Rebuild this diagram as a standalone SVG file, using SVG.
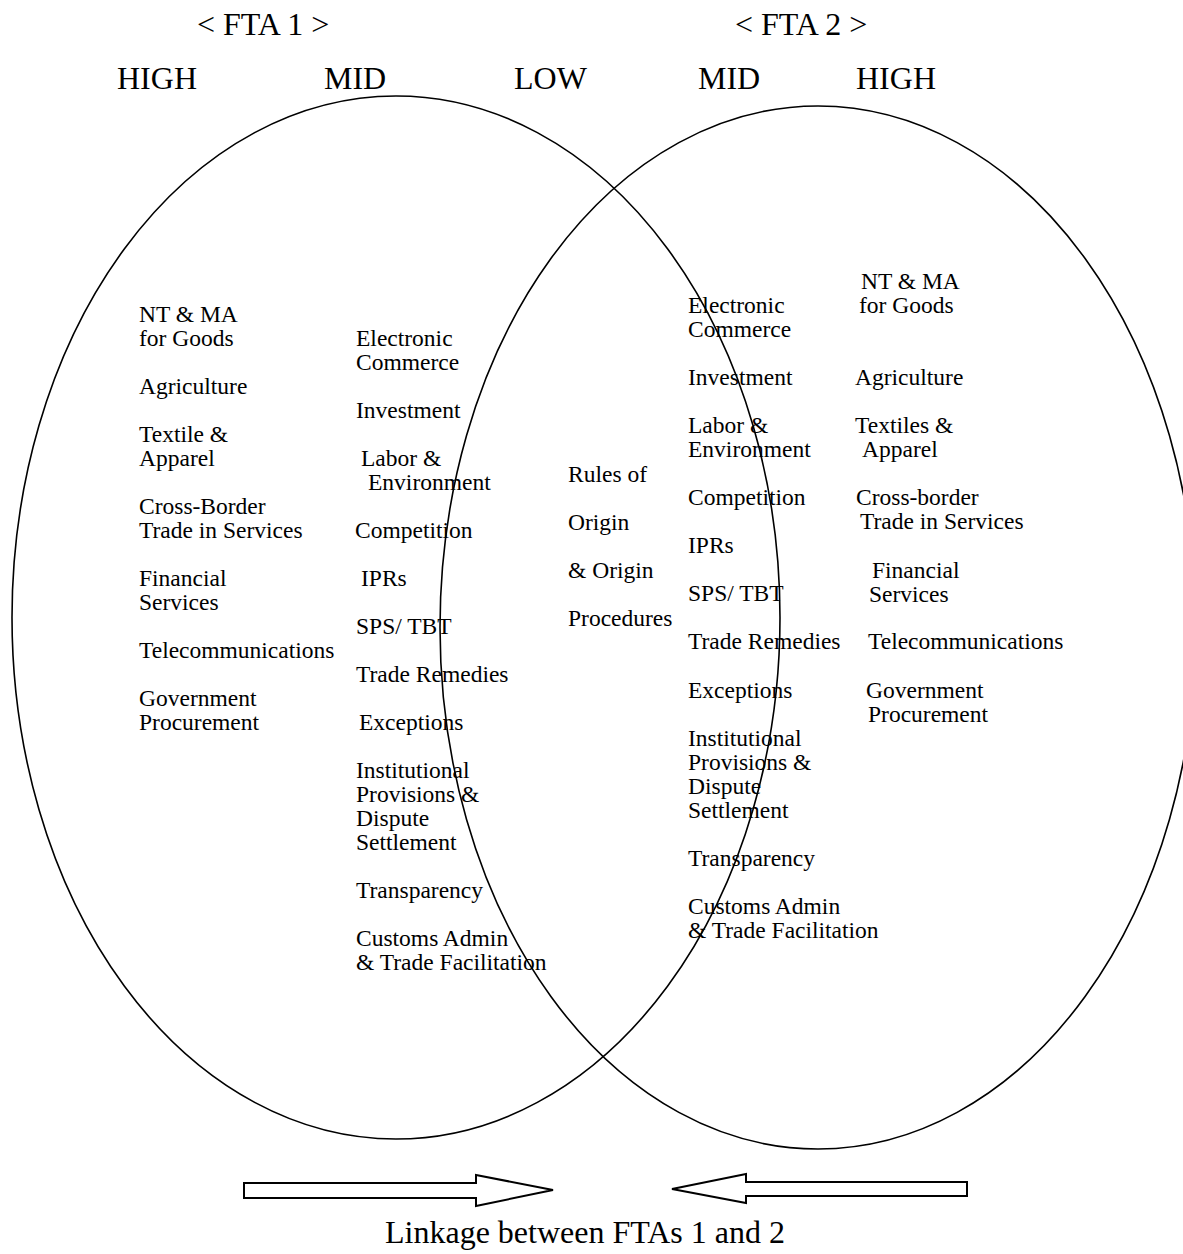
<svg xmlns="http://www.w3.org/2000/svg" width="1183" height="1254" viewBox="0 0 1183 1254">
<style>
.t{font-family:"Liberation Serif","Times New Roman",serif;font-size:23.5px;fill:#000}
.h{font-family:"Liberation Serif","Times New Roman",serif;font-size:32px;fill:#000}
.e{fill:none;stroke:#000;stroke-width:1.6}
.a{fill:#fff;stroke:#000;stroke-width:2;stroke-linejoin:miter}
</style>
<rect width="1183" height="1254" fill="#fff"/>
<g id="fta1-circle"><ellipse class="e" cx="396" cy="617.5" rx="384" ry="521.5"/></g>
<g id="fta2-circle"><ellipse class="e" cx="818" cy="627.5" rx="378" ry="521.5"/></g>
<g id="headers">
<text class="h" x="197" y="35">&lt; FTA 1 &gt;</text>
<text class="h" x="735" y="35">&lt; FTA 2 &gt;</text>
<text class="h" x="117" y="89">HIGH</text>
<text class="h" x="324" y="89">MID</text>
<text class="h" x="514" y="89">LOW</text>
<text class="h" x="698" y="89">MID</text>
<text class="h" x="856" y="89">HIGH</text>
</g>
<g id="fta1-high">
<text class="t" x="139" y="322">NT &amp; MA</text>
<text class="t" x="139" y="346">for Goods</text>
<text class="t" x="139" y="394">Agriculture</text>
<text class="t" x="139" y="442">Textile &amp;</text>
<text class="t" x="139" y="466">Apparel</text>
<text class="t" x="139" y="514">Cross-Border</text>
<text class="t" x="139" y="538">Trade in Services</text>
<text class="t" x="139" y="586">Financial</text>
<text class="t" x="139" y="610">Services</text>
<text class="t" x="139" y="658">Telecommunications</text>
<text class="t" x="139" y="706">Government</text>
<text class="t" x="139" y="730">Procurement</text>
</g>
<g id="fta1-mid">
<text class="t" x="356" y="346">Electronic</text>
<text class="t" x="356" y="370">Commerce</text>
<text class="t" x="356" y="418">Investment</text>
<text class="t" x="361" y="466">Labor &amp;</text>
<text class="t" x="368" y="490">Environment</text>
<text class="t" x="355" y="538">Competition</text>
<text class="t" x="361" y="586">IPRs</text>
<text class="t" x="356" y="634">SPS/ TBT</text>
<text class="t" x="356" y="682">Trade Remedies</text>
<text class="t" x="359" y="730">Exceptions</text>
<text class="t" x="356" y="778">Institutional</text>
<text class="t" x="356" y="802">Provisions &amp;</text>
<text class="t" x="356" y="826">Dispute</text>
<text class="t" x="356" y="850">Settlement</text>
<text class="t" x="356" y="898">Transparency</text>
<text class="t" x="356" y="946">Customs Admin</text>
<text class="t" x="356" y="970">&amp; Trade Facilitation</text>
</g>
<g id="low">
<text class="t" x="568" y="482">Rules of</text>
<text class="t" x="568" y="530">Origin</text>
<text class="t" x="568" y="578">&amp; Origin</text>
<text class="t" x="568" y="626">Procedures</text>
</g>
<g id="fta2-mid">
<text class="t" x="688" y="313">Electronic</text>
<text class="t" x="688" y="337">Commerce</text>
<text class="t" x="688" y="385">Investment</text>
<text class="t" x="688" y="433">Labor &amp;</text>
<text class="t" x="688" y="457">Environment</text>
<text class="t" x="688" y="505">Competition</text>
<text class="t" x="688" y="553">IPRs</text>
<text class="t" x="688" y="601">SPS/ TBT</text>
<text class="t" x="688" y="649">Trade Remedies</text>
<text class="t" x="688" y="698">Exceptions</text>
<text class="t" x="688" y="746">Institutional</text>
<text class="t" x="688" y="770">Provisions &amp;</text>
<text class="t" x="688" y="794">Dispute</text>
<text class="t" x="688" y="818">Settlement</text>
<text class="t" x="688" y="866">Transparency</text>
<text class="t" x="688" y="914">Customs Admin</text>
<text class="t" x="688" y="938">&amp; Trade Facilitation</text>
</g>
<g id="fta2-high">
<text class="t" x="861" y="289">NT &amp; MA</text>
<text class="t" x="859" y="313">for Goods</text>
<text class="t" x="855" y="385">Agriculture</text>
<text class="t" x="855" y="433">Textiles &amp;</text>
<text class="t" x="862" y="457">Apparel</text>
<text class="t" x="856" y="505">Cross-border</text>
<text class="t" x="860" y="529">Trade in Services</text>
<text class="t" x="872" y="578">Financial</text>
<text class="t" x="869" y="602">Services</text>
<text class="t" x="868" y="649">Telecommunications</text>
<text class="t" x="866" y="698">Government</text>
<text class="t" x="868" y="722">Procurement</text>
</g>
<g id="connectors">
<polygon class="a" points="244,1183 476,1183 476,1175 553,1190 476,1206 476,1198 244,1198"/>
<polygon class="a" points="967,1182 746,1182 746,1174 672,1189 746,1203 746,1196 967,1196"/>
</g>
<g id="caption"><text class="h" x="385" y="1243">Linkage between FTAs 1 and 2</text></g>
</svg>
